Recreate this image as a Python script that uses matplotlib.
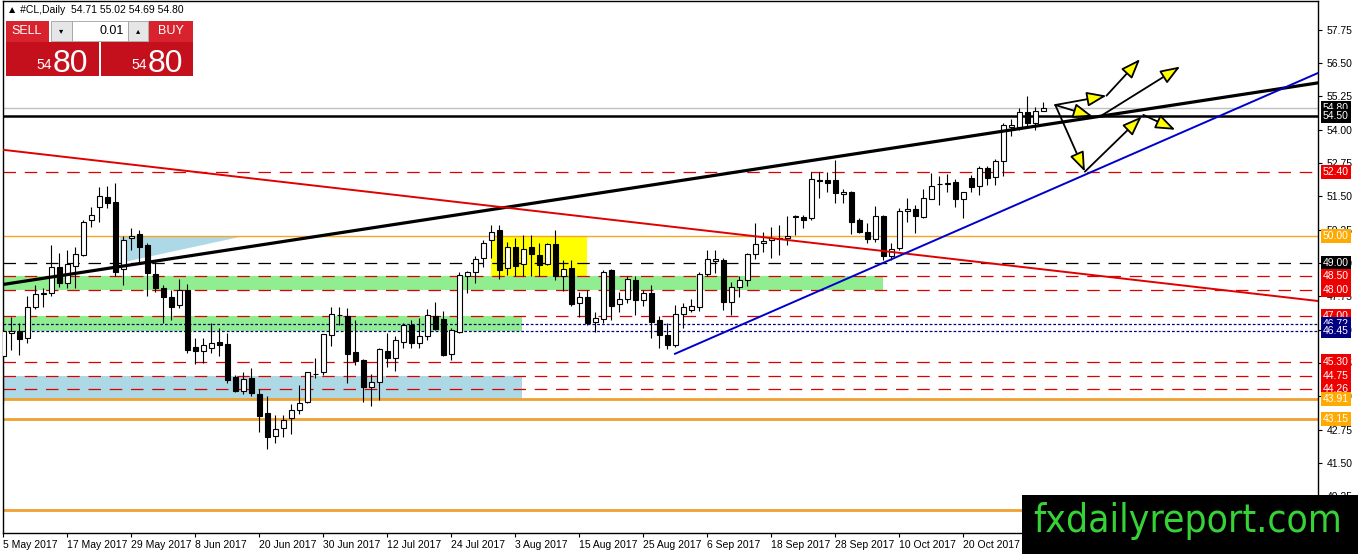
import numpy as np
import pandas as pd
import matplotlib
matplotlib.use("Agg")
import matplotlib.pyplot as plt
from matplotlib.patches import Rectangle, Polygon
from matplotlib.ticker import FormatStrFormatter

W, H = 1358, 554
plt.rcParams["font.family"] = ["Liberation Sans", "DejaVu Sans"]

# daily candles, #CL from 5 May 2017
start_date = "2017-05-05"
opens = [45.51, 46.37, 46.46, 46.18, 47.36, 47.84, 47.86, 48.84, 48.24, 48.90,
         49.29, 50.59, 51.09, 51.46, 51.27, 48.76, 49.92, 50.09, 49.67, 48.59,
         48.05, 47.71, 47.42, 47.99, 45.84, 45.69, 45.79, 46.04, 45.96, 44.71,
         44.21, 44.67, 44.09, 43.36, 42.52, 42.80, 43.18, 43.49, 43.78, 44.82,
         44.90, 46.30, 47.04, 47.00, 45.65, 45.36, 44.34, 44.55, 45.71, 45.42,
         46.05, 46.67, 45.99, 46.24, 46.99, 46.89, 45.58, 46.42, 48.51, 48.67,
         49.17, 49.86, 50.24, 48.80, 49.60, 48.95, 49.59, 49.30, 48.96, 49.71,
         48.52, 48.80, 47.49, 47.71, 46.80, 46.89, 48.74, 47.45, 47.64, 48.36,
         47.59, 47.86, 46.86, 46.30, 45.92, 47.07, 47.24, 47.36, 48.57, 49.08,
         49.11, 47.55, 48.11, 48.36, 49.33, 49.74, 49.86, 49.90, 49.95, 50.72,
         50.71, 50.68, 52.08, 52.11, 52.09, 51.58, 51.67, 50.61, 50.17, 49.89,
         50.76, 49.26, 49.55, 50.95, 51.02, 50.71, 51.41, 51.94, 51.96, 52.05,
         51.39, 52.17, 51.90, 52.55, 52.21, 52.82, 54.11, 54.11, 54.65, 54.26,
         54.71]
highs = [46.55, 46.98, 46.76, 47.76, 48.17, 48.05, 49.67, 49.36, 49.49, 49.59,
         50.60, 51.09, 51.84, 51.89, 51.99, 49.99, 50.30, 50.24, 49.74, 49.11,
         48.17, 47.99, 48.39, 48.21, 46.17, 46.17, 46.74, 46.55, 46.38, 44.80,
         44.92, 45.05, 44.27, 44.01, 43.30, 43.30, 43.71, 44.42, 44.92, 45.42,
         46.35, 47.36, 47.34, 47.30, 46.86, 45.40, 44.84, 45.80, 46.38, 46.24,
         46.76, 46.86, 46.92, 47.26, 47.54, 47.20, 46.55, 48.67, 48.70, 49.24,
         49.86, 50.42, 50.42, 49.80, 49.92, 50.05, 50.05, 49.76, 49.76, 50.24,
         49.11, 49.11, 47.92, 47.99, 47.17, 48.74, 48.78, 47.92, 48.49, 48.49,
         47.99, 48.17, 46.99, 46.74, 47.42, 47.51, 47.64, 48.64, 49.49, 49.49,
         49.17, 48.30, 48.49, 49.36, 50.49, 50.14, 50.36, 50.42, 50.74, 50.80,
         50.80, 52.42, 52.39, 52.39, 52.86, 51.76, 51.70, 50.67, 50.49, 51.14,
         50.80, 49.76, 51.05, 51.42, 51.17, 51.76, 52.36, 52.24, 52.32, 52.14,
         51.67, 52.30, 52.64, 52.64, 52.89, 54.24, 54.39, 54.80, 55.24, 54.86,
         55.02]
lows = [43.76, 45.74, 45.54, 46.01, 47.26, 47.36, 47.74, 48.11, 48.05, 48.05,
        49.25, 50.36, 50.55, 51.05, 48.49, 48.17, 49.49, 48.99, 47.74, 47.92,
        46.74, 46.86, 47.30, 45.63, 45.20, 45.24, 45.61, 45.51, 44.51, 44.17,
        44.09, 44.01, 42.67, 42.01, 42.26, 42.48, 42.59, 43.32, 43.74, 44.67,
        44.80, 45.90, 46.67, 44.50, 45.17, 43.80, 43.64, 43.86, 45.09, 44.96,
        45.80, 45.80, 45.80, 46.11, 46.49, 45.51, 45.36, 46.36, 47.86, 48.24,
        48.86, 49.17, 48.39, 48.55, 48.49, 48.49, 48.49, 48.49, 48.92, 48.36,
        47.96, 47.38, 46.98, 46.67, 46.42, 46.74, 46.86, 47.17, 47.49, 47.05,
        47.38, 46.18, 45.80, 45.76, 45.86, 46.55, 47.17, 47.20, 48.51, 48.61,
        47.24, 47.05, 47.71, 48.14, 49.14, 49.39, 49.17, 49.30, 49.67, 50.05,
        50.30, 50.61, 51.42, 51.64, 51.24, 51.24, 50.09, 50.11, 49.76, 49.80,
        49.11, 49.11, 49.49, 50.55, 50.11, 50.69, 51.39, 51.17, 51.67, 51.09,
        50.67, 51.67, 51.55, 51.92, 51.92, 52.24, 53.74, 53.99, 54.11, 53.99,
        54.69]
closes = [46.45, 46.45, 46.14, 47.36, 47.84, 47.86, 48.84, 48.24, 48.95, 49.33,
          50.53, 50.79, 51.49, 51.26, 48.67, 49.86, 50.00, 49.61, 48.61, 48.05,
          47.71, 47.36, 47.99, 45.74, 45.70, 45.91, 45.99, 45.93, 44.61, 44.21,
          44.66, 44.11, 43.26, 42.48, 42.76, 43.11, 43.49, 43.74, 44.90, 44.84,
          46.32, 47.08, 47.06, 45.58, 45.32, 44.34, 44.52, 45.76, 45.42, 46.11,
          46.67, 45.99, 46.24, 47.05, 46.51, 45.55, 46.49, 48.55, 48.67, 49.14,
          49.76, 50.17, 48.74, 49.59, 48.90, 49.51, 49.32, 48.92, 49.71, 48.49,
          48.76, 47.46, 47.71, 46.76, 46.92, 48.67, 47.38, 47.64, 48.39, 47.59,
          47.86, 46.80, 46.30, 45.92, 47.07, 47.34, 47.39, 48.59, 49.14, 49.14,
          47.55, 48.09, 48.36, 49.33, 49.70, 49.82, 49.95, 49.92, 50.00, 50.74,
          50.61, 52.14, 52.10, 52.01, 51.61, 51.67, 50.55, 50.17, 49.89, 50.75,
          49.24, 49.51, 50.95, 51.02, 50.74, 51.42, 51.90, 51.96, 52.01, 51.39,
          51.64, 51.84, 52.55, 52.17, 52.82, 54.17, 54.17, 54.65, 54.26, 54.71,
          54.80]

# horizontal levels: price, colour, style, width
levels = [
    (54.80, "#c0c0c0", "-", 1.0),
    (54.50, "black", "-", 1.8),
    (52.40, "#dd0000", (0, (10, 7)), 0.9),
    (50.00, "#f5a623", "-", 1.0),
    (49.00, "black", (0, (10, 7)), 0.9),
    (48.50, "#dd0000", (0, (10, 7)), 0.9),
    (48.00, "#dd0000", (0, (10, 7)), 0.9),
    (47.00, "#dd0000", (0, (10, 7)), 0.9),
    (46.72, "#000080", (0, (2.2, 1.6)), 0.9),
    (46.45, "#000080", (0, (2.2, 1.6)), 0.9),
    (45.30, "#dd0000", (0, (10, 7)), 0.9),
    (44.75, "#dd0000", (0, (10, 7)), 0.9),
    (44.26, "#dd0000", (0, (10, 7)), 0.9),
    (43.91, "#f0a030", "-", 2.0),
    (43.15, "#f0a030", "-", 2.0),
    (39.75, "#f0a030", "-", 2.0),
]
# price tags on the right scale
tags = [
    (54.80, "black"), (54.50, "black"), (52.40, "#ee0000"), (50.00, "#ffaa00"),
    (49.00, "black"), (48.50, "#ee0000"), (48.00, "#ee0000"), (47.00, "#ee0000"),
    (46.72, "#000080"), (46.45, "#000080"), (45.30, "#ee0000"), (44.75, "#ee0000"),
    (44.26, "#ee0000"), (43.91, "#ffaa00"), (43.15, "#ffaa00"),
]

# zones: bar from, bar to, price low, price high, colour
zones = [
    (-1, 110.0, 48.00, 48.50, "#90ee90"),
    (-1, 64.8, 46.45, 47.00, "#90ee90"),
    (-1, 64.8, 43.85, 44.75, "#add8e6"),
    (61.0, 72.9, 48.50, 50.00, "#ffff00"),
]
triangle = [(14.6, 50.0), (30.0, 50.0), (14.6, 49.0)]

# trend lines (bar, price) end points
black_trend = ([-0.04, 164.34], [48.19, 55.75])
red_trend = ([-0.04, 164.34], [53.24, 47.57])
blue_trend = ([83.96, 164.34], [45.59, 56.12])

arrows = [
    ((131.5, 54.92), (137.9, 55.27)),
    ((137.9, 55.27), (142.1, 56.64)),
    ((131.5, 54.92), (136.2, 54.49)),
    ((137.1, 54.49), (147.1, 56.36)),
    ((131.5, 54.92), (135.2, 52.42)),
    ((135.2, 52.42), (142.3, 54.49)),
    ((142.5, 54.55), (146.5, 53.99)),
]

fig = plt.figure(figsize=(W / 100, H / 100), dpi=100)
ax = fig.add_axes([3 / W, 21 / H, 1315 / W, 532 / H])
ax.set_xlim(-0.04, 164.34)
ax.set_ylim(38.87, 58.82)

for x0, x1, p0, p1, col in zones:
    ax.add_patch(Rectangle((x0, p0), x1 - x0, p1 - p0, color=col, lw=0, zorder=1))
ax.add_patch(Polygon(triangle, closed=True, color="#add8e6", lw=0, zorder=1))

for p, col, ls, lw in levels:
    ax.axhline(p, color=col, linestyle=ls, lw=lw, zorder=2)

x = np.arange(len(opens))
o, h, l, c = map(np.array, (opens, highs, lows, closes))
up = c >= o
ax.vlines(x, l, h, color="black", lw=0.8, zorder=3)
ax.bar(x, np.maximum(np.abs(c - o), 0.02), bottom=np.minimum(o, c), width=0.62,
       color=np.where(up, "white", "black"), edgecolor="black", linewidth=0.8, zorder=4)

ax.plot(*black_trend, color="black", lw=2.3, zorder=5)
ax.plot(*red_trend, color="#e00000", lw=1.4, zorder=5)
ax.plot(*blue_trend, color="#0000cc", lw=1.4, zorder=5)

for start, end in arrows:
    ax.annotate("", xy=end, xytext=start, zorder=6,
                arrowprops=dict(arrowstyle="-|>,head_length=1.2,head_width=0.45",
                                fc="#ffff00", ec="black", lw=1.3, shrinkA=0, shrinkB=0))

# right price scale
ax.yaxis.tick_right()
ax.set_yticks(np.arange(40.25, 58.5, 1.25))
ax.yaxis.set_major_formatter(FormatStrFormatter("%.2f"))
ax.tick_params(axis="y", direction="out", length=3, labelsize=7.5, pad=3)
for p, col in tags:
    ax.text(1.0035, p, f"{p:.2f}", transform=ax.get_yaxis_transform(), fontsize=7.5,
            color="white", va="center", ha="left", zorder=10, clip_on=False,
            bbox=dict(boxstyle="square,pad=0.2", fc=col, ec="none"))

dates = pd.bdate_range(start_date, periods=len(opens))
ax.set_xticks(x[::8])
ax.set_xticklabels([f"{d.day} {d:%b %Y}" for d in dates[::8]], ha="left", fontsize=7.5)
ax.tick_params(axis="x", direction="out", length=3, pad=2)
for s in ax.spines.values():
    s.set_linewidth(1.0)


def px_rect(x0, y0, x1, y1, **kw):
    fig.add_artist(Rectangle((x0 / W, 1 - y1 / H), (x1 - x0) / W, (y1 - y0) / H,
                             transform=fig.transFigure, **kw))


def px_text(xp, yp, s, **kw):
    fig.text(xp / W, 1 - yp / H, s, **kw)


# one-click trading panel
px_text(7, 10, "\u25b2 #CL,Daily  54.71 55.02 54.69 54.80", fontsize=7.5, va="center")
px_rect(6, 21, 49, 42, fc="#d8232f", ec="none")
px_rect(149, 21, 193, 42, fc="#d8232f", ec="none")
px_rect(6, 42, 99, 76, fc="#c4101c", ec="none")
px_rect(101, 42, 193, 76, fc="#c4101c", ec="none")
px_rect(51, 21, 72, 41, fc="#e6e6e6", ec="#a0a0a0", lw=0.6)
px_rect(72, 21, 128, 41, fc="white", ec="#a0a0a0", lw=0.6)
px_rect(128, 21, 148, 41, fc="#e6e6e6", ec="#a0a0a0", lw=0.6)
px_text(27, 31, "SELL", color="white", fontsize=9, ha="center", va="center")
px_text(171, 31, "BUY", color="white", fontsize=9, ha="center", va="center")
px_text(61, 31, "\u25be", fontsize=6, ha="center", va="center", family="DejaVu Sans")
px_text(138, 31, "\u25b4", fontsize=6, ha="center", va="center", family="DejaVu Sans")
px_text(124, 31, "0.01", fontsize=9, ha="right", va="center")
px_text(52, 69, "54", color="white", fontsize=10, ha="right", va="baseline")
px_text(147, 69, "54", color="white", fontsize=10, ha="right", va="baseline")
px_text(53, 72, "80", color="white", fontsize=23, ha="left", va="baseline")
px_text(148, 72, "80", color="white", fontsize=23, ha="left", va="baseline")

# watermark
px_rect(1022, 495, 1358, 554, fc="black", ec="none", zorder=20)
fig.text(1188 / W, 1 - 521 / H, "fxdailyreport.com", color="#36d236", fontsize=28,
         family=["Liberation Sans Narrow", "DejaVu Sans"], stretch="condensed",
         ha="center", va="center", zorder=21)

fig.savefig("out.png", dpi=100)
